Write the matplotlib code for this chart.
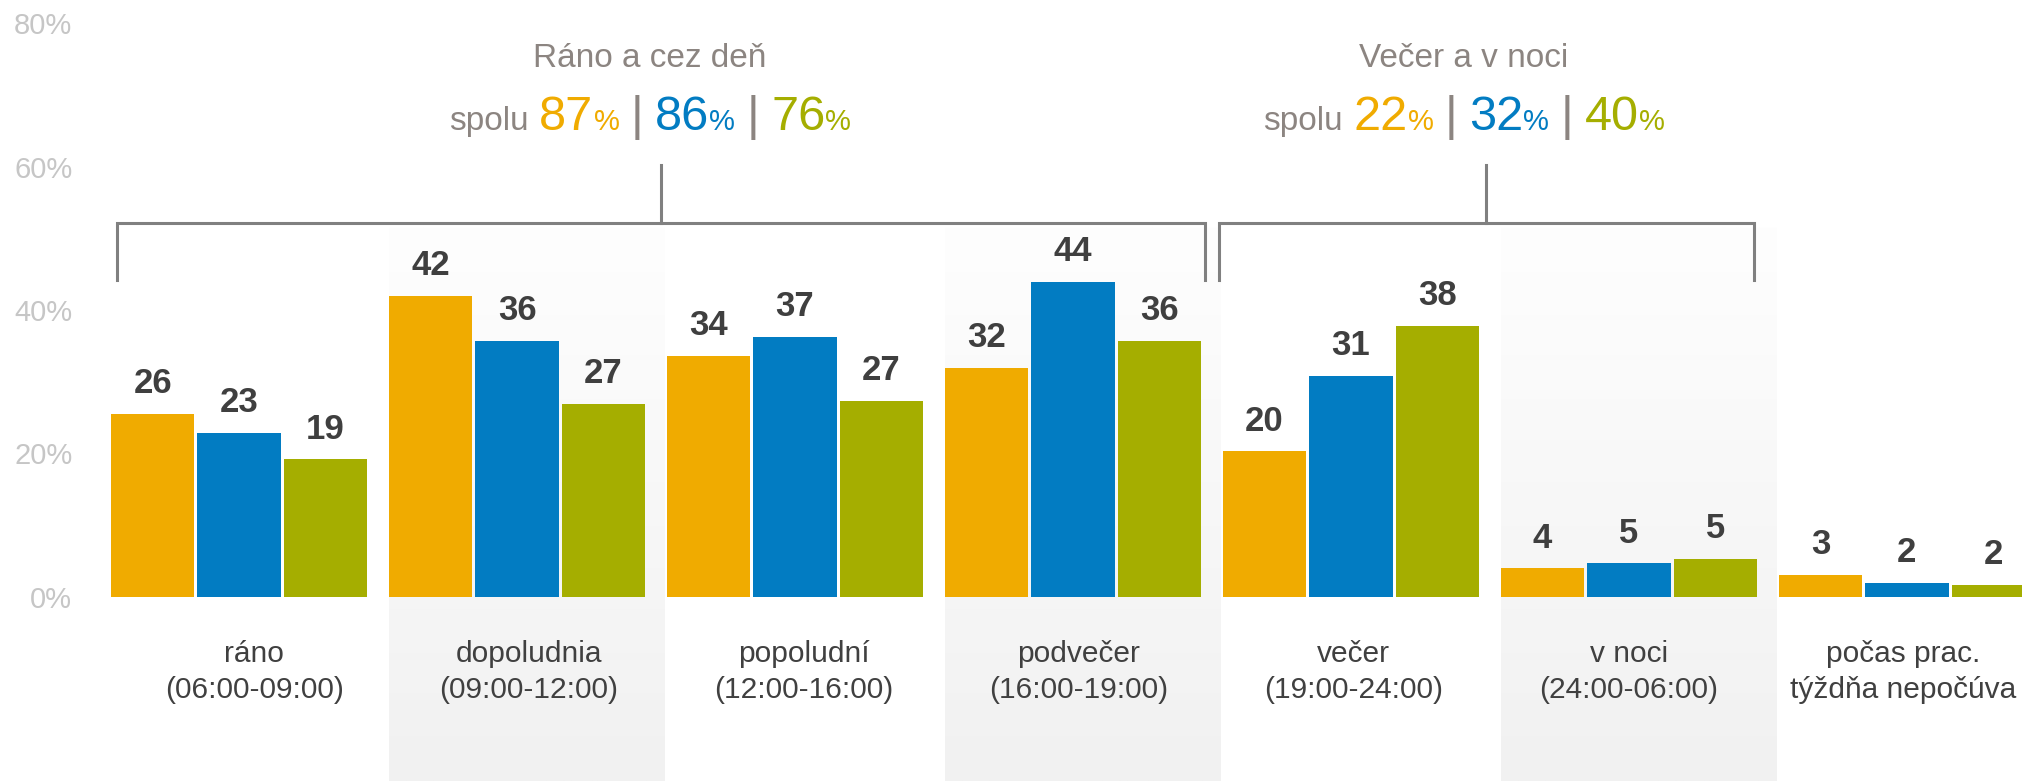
import matplotlib.pyplot as plt
import numpy as np
from matplotlib.colors import LinearSegmentedColormap

plt.rcParams['font.family'] = ['Liberation Sans', 'DejaVu Sans']

# categories (two lines of x labels)
categories = ['ráno', 'dopoludnia', 'popoludní', 'podvečer', 'večer', 'v noci', 'počas prac.']
subtitles = ['(06:00-09:00)', '(09:00-12:00)', '(12:00-16:00)', '(16:00-19:00)',
             '(19:00-24:00)', '(24:00-06:00)', 'týždňa nepočúva']

# bar heights (%)
orange_vals = [25.5, 42.0, 33.6, 31.9, 20.3, 4.0, 3.1]
blue_vals = [22.9, 35.7, 36.3, 43.9, 30.8, 4.7, 2.0]
green_vals = [19.2, 26.9, 27.3, 35.7, 37.8, 5.3, 1.7]

# printed value labels
orange_labels = [26, 42, 34, 32, 20, 4, 3]
blue_labels = [23, 36, 37, 44, 31, 5, 2]
green_labels = [19, 27, 27, 36, 38, 5, 2]

# summary brackets
group_titles = ['Ráno a cez deň', 'Večer a v noci']
orange_totals = [87, 22]
blue_totals = [86, 32]
green_totals = [76, 40]

yticks = [0, 20, 40, 60, 80]

ORANGE = '#f0ab00'
BLUE = '#027cc2'
GREEN = '#a5ae00'
GREY = '#8c8581'
DARK = '#3f3f3f'

fig = plt.figure(figsize=(20.22, 7.81), dpi=100)
ax = fig.add_axes([0, 0, 1, 1])
ax.axis('off')

x = np.arange(len(categories))
width = 0.3
off = 0.311

YMIN, YMAX = -25.66, 83.26
XMIN, XMAX = -0.86, 6.414

# shaded background bands with soft gradient
cmap = LinearSegmentedColormap.from_list('band', ['#f1f1f1', '#fefefe'])
grad = np.linspace(0, 1, 200).reshape(-1, 1)
for i in [1, 3, 5]:
    ax.imshow(grad, extent=[x[i] - 0.46, x[i] + 0.53, YMIN, 51.6], origin='lower',
              cmap=cmap, vmin=0, vmax=1, aspect='auto', zorder=0)

series = [(orange_vals, orange_labels, ORANGE, -off),
          (blue_vals, blue_labels, BLUE, 0),
          (green_vals, green_labels, GREEN, off)]
for vals, labels, color, dx in series:
    ax.bar(x + dx, vals, width=width, color=color, linewidth=0, zorder=2)
    for xi, v, lab in zip(x + dx, vals, labels):
        ax.text(xi, v + 2.9, str(lab), ha='center', va='baseline', fontsize=25,
                fontweight='bold', color=DARK, zorder=3)

# category labels (placed on a slightly narrower pitch than the bars)
label_x = x * 0.989 + 0.054
for xi, c, s in zip(label_x, categories, subtitles):
    ax.text(xi, -9.07, c, ha='center', va='baseline', fontsize=21.5, color='#404040')
    ax.text(xi, -14.15, s, ha='center', va='baseline', fontsize=21.5, color='#404040')

# y tick labels
for t in yticks:
    ax.text(-0.6, t - 1.5, f'{t}%', ha='right', va='baseline', fontsize=21, color='#c6c6c6')

# brackets
brackets = [(-0.44, 3.475, 1.518), (3.525, 5.45, 4.486)]
for left, right, stem in brackets:
    ax.plot([left, left, right, right], [44.2, 52.16, 52.16, 44.2], color='#808080',
            lw=2.2, solid_joinstyle='miter', zorder=1)
    ax.plot([stem, stem], [52.16, 60.25], color='#808080', lw=2.2, zorder=1)

ax.set_xlim(XMIN, XMAX)
ax.set_ylim(YMIN, YMAX)

renderer = fig.canvas.get_renderer()


def place_row(x_center, y_base, pieces):
    texts, widths = [], []
    for s, size, color, gap in pieces:
        t = ax.text(0, y_base, s, fontsize=size, color=color, ha='left', va='baseline')
        w = t.get_window_extent(renderer).width
        texts.append(t)
        widths.append(w + gap)
    total = sum(widths) - pieces[-1][3]
    px = ax.transData.transform((x_center, y_base))[0] - total / 2
    inv = ax.transData.inverted()
    for t, w in zip(texts, widths):
        t.set_x(inv.transform((px, 0))[0])
        px += w


title_x = [1.478, 4.406]
for k in range(2):
    ax.text(title_x[k], 73.9, group_titles[k], ha='center', va='baseline',
            fontsize=24, color=GREY)
    pieces = [('spolu', 24, GREY, 11)]
    totals = [(orange_totals[k], ORANGE), (blue_totals[k], BLUE), (green_totals[k], GREEN)]
    for j, (val, col) in enumerate(totals):
        pieces.append((str(val), 35, col, 0))
        if j < 2:
            pieces.append(('%', 21, col, 11))
            pieces.append(('|', 35, GREY, 12))
        else:
            pieces.append(('%', 21, col, 0))
    place_row(title_x[k], 65.1, pieces)

fig.savefig('out.png', dpi=100)
